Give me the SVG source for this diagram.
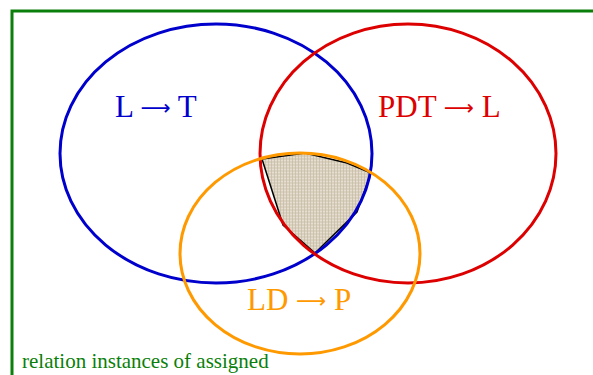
<svg xmlns="http://www.w3.org/2000/svg" width="593" height="375" viewBox="0 0 593 375">
<style>
.e{fill:none;stroke-width:3}
.t{font-family:"Liberation Serif",serif;font-size:31px}
.a{font-family:"DejaVu Sans",sans-serif;font-size:21px}
</style>
<defs>
<pattern id="tex" width="6" height="6" patternUnits="userSpaceOnUse">
<rect width="6" height="6" fill="#d9d0be"/>
<path d="M0 1.5H6M0 4.5H6" stroke="#e8e2d6" stroke-width="0.8"/>
<path d="M1.5 0V6M4.5 0V6" stroke="#c4b9a3" stroke-width="0.7"/>
</pattern>
</defs>
<rect width="593" height="375" fill="#fff"/>
<path d="M12 375V11H593" fill="none" stroke="#0a7f0a" stroke-width="3"/>
<g id="shade"><polygon points="262,159 305,153 347,163 371,173 357,212 315,253 283,225" fill="url(#tex)" stroke="#000" stroke-width="1.5"/></g>
<g id="blue"><ellipse class="e" cx="216" cy="153.5" rx="156" ry="129.5" stroke="#0000cc"/><text class="t" x="115" y="117" fill="#0000cc">L <tspan class="a" dy="-2">⟶</tspan><tspan dy="2"> T</tspan></text></g>
<g id="red"><ellipse class="e" cx="408" cy="153.5" rx="148" ry="129.5" stroke="#dd0000"/><text class="t" x="378" y="117" fill="#dd0000">PDT <tspan class="a" dy="-2">⟶</tspan><tspan dy="2"> L</tspan></text></g>
<g id="orange"><ellipse class="e" cx="300" cy="253.5" rx="120" ry="100.5" stroke="#ff9900"/><text class="t" x="247" y="310" fill="#ff9900">LD <tspan class="a" dy="-2">⟶</tspan><tspan dy="2"> P</tspan></text></g>
<g id="caption"><text x="22" y="368" font-family="Liberation Serif,serif" font-size="21" fill="#0a7f0a">relation instances of assigned</text></g>
</svg>
